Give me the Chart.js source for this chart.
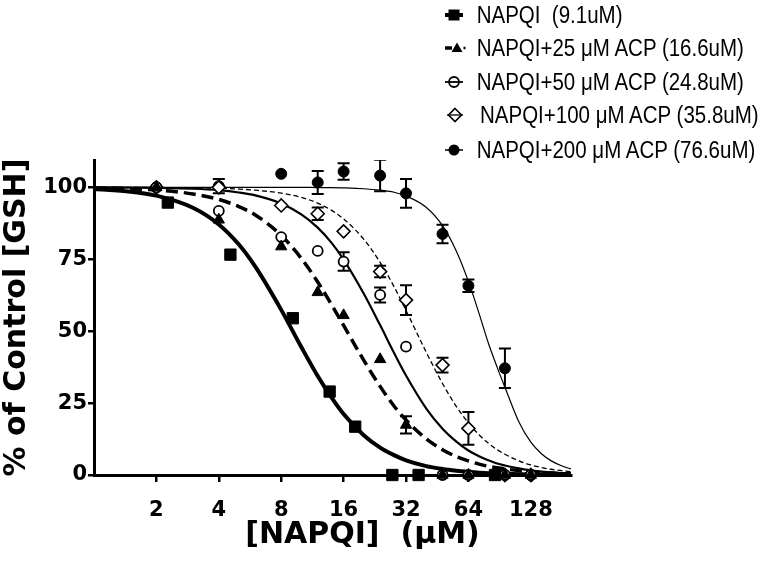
<!DOCTYPE html>
<html><head><meta charset="utf-8">
<script src="https://cdn.jsdelivr.net/npm/chart.js@4.4.1/dist/chart.umd.min.js"></script>
<style>
html,body{margin:0;padding:0;background:#fff;}
#wrap{position:relative;width:768px;height:564px;overflow:hidden;}
#legend{position:absolute;left:0;top:0;width:768px;height:170px;pointer-events:none;}
.item{position:absolute;left:440px;width:328px;height:30px;}
.item svg{position:absolute;left:0;top:0;}
.item span{position:absolute;top:0;white-space:pre;font-family:"Liberation Sans",Arial,sans-serif;font-size:20.5px;line-height:30px;color:#000;transform:scaleY(1.14);transform-origin:left center;}
</style></head>
<body>
<div id="wrap"><canvas id="c" width="768" height="564"></canvas><div id="legend"></div></div>
<script>
// ---- tick labels / titles ----
const xTicks = [2, 4, 8, 16, 32, 64, 128];
const yTicks = [0, 25, 50, 75, 100];
const xTitleText = '[NAPQI]  (μM)';
const yTitleText = '% of Control [GSH]';
const seriesNames = [
  'NAPQI  (9.1uM)',
  'NAPQI+25 μM ACP (16.6uM)',
  'NAPQI+50 μM ACP (24.8uM)',
  'NAPQI+100 μM ACP (35.8uM)',
  'NAPQI+200 μM ACP (76.6uM)'
];

// ---- measured points ----
const napqiX = [2.27, 4.55, 9.1, 13.7, 18.2, 27.5, 36.8, 86];
const napqiY = [94.7, 76.6, 54.5, 29.0, 16.8, 0, 0, 0];

const acpX = [2, 4, 8, 12, 16, 24, 32, 48, 64, 96, 128];
const acp25Y   = [100, 88.7, 79.4, 63.5, 55.5, 40.2, 17.4, 0, 0, 0, 0];
const acp25Err = [0, 0, 0, 0, 0, 0, 3.0, 0, 0, 0, 0];
const acp50Y   = [100, 91.8, 82.7, 77.9, 74.2, 62.6, 44.6, 0, 0, 0, 0];
const acp50Err = [0, 0, 0, 0, 3.2, 2.6, 0, 0, 0, 0, 0];
const acp100Y   = [100, 100, 93.7, 90.8, 84.7, 70.7, 60.8, 38.2, 16.2, 0, 0];
const acp100Err = [0, 0, 0, 2.2, 0, 2.0, 5.2, 2.6, 5.7, 0, 0];
const acp200Y   = [100, 100.4, 104.7, 101.7, 105.5, 104.1, 97.9, 83.8, 65.8, 37.1, 0];
const acp200Err = [0, 2.5, 0, 4.0, 2.9, 5.5, 5.0, 3.2, 2.2, 6.9, 0];

// ---- fitted curves ----
const fitX = [1, 1.5, 2, 3, 4, 5, 6, 8, 10, 12, 14, 16, 20, 24, 28, 32, 40, 48, 56, 64, 72, 80, 88, 96, 112, 128, 144, 160, 180, 200];
const fitNapqi = [99.4, 98.5, 97.1, 92.9, 87.1, 80.1, 72.4, 57.4, 44.5, 34.4, 26.9, 21.2, 13.8, 9.5, 6.9, 5.1, 3.1, 2.1, 1.5, 1.1, 0.8, 0.6, 0.5, 0.4, 0.3, 0.2, 0.2, 0.1, 0.1, 0.1];
const fit25 = [99.8, 99.5, 99.1, 97.7, 95.8, 93.3, 90.4, 83.3, 75.3, 67.1, 59.2, 52.0, 39.9, 30.8, 24.0, 19.1, 12.6, 8.8, 6.4, 4.9, 3.8, 3.0, 2.5, 2.1, 1.5, 1.1, 0.9, 0.7, 0.5, 0.4];
const fit50 = [100, 99.9, 99.8, 99.5, 99.0, 98.2, 97.2, 94.4, 90.6, 86.0, 80.7, 74.9, 63.1, 52.1, 42.5, 34.6, 23.2, 16.1, 11.6, 8.5, 6.5, 5.1, 4.0, 3.3, 2.3, 1.6, 1.2, 0.9, 0.7, 0.5];
const fit100 = [100, 100, 99.9, 99.8, 99.7, 99.4, 99.0, 98.0, 96.5, 94.5, 92.0, 89.0, 82.0, 73.9, 65.5, 57.2, 42.8, 31.8, 23.8, 18.1, 14.0, 11.0, 8.8, 7.2, 4.9, 3.5, 2.6, 2.0, 1.5, 1.1];
const fit200 = [100, 100, 100, 100, 100, 100, 100, 100, 100, 99.9, 99.9, 99.8, 99.5, 99.0, 98.3, 97.0, 93.1, 86.7, 77.8, 67.3, 56.2, 45.7, 37.5, 30.5, 18.5, 11.4, 7.4, 5.0, 3.2, 2.1];

const pts = (xs, ys) => xs.map((x, i) => ({x: x, y: ys[i]}));

function curve(ys, width, dash) {
  return {data: pts(fitX, ys), showLine: true, borderColor: '#000', borderWidth: width,
    borderDash: dash, pointRadius: 0, cubicInterpolationMode: 'monotone', order: 2, fill: false};
}
function marks(xs, ys, errs, style, radius, filled, bw) {
  return {data: pts(xs, ys), errors: errs, showLine: false, pointStyle: style, pointRadius: radius,
    pointBackgroundColor: filled ? '#000' : '#fff', pointBorderColor: '#000', pointBorderWidth: bw,
    order: 1, clip: false};
}

const errorBars = {
  id: 'errorBars',
  beforeDatasetsDraw(chart) {
    const {ctx, chartArea} = chart;
    const xs = chart.scales.x, ys = chart.scales.y;
    ctx.save();
    ctx.beginPath();
    ctx.rect(chartArea.left, chartArea.top, chartArea.right - chartArea.left, chartArea.bottom - chartArea.top + 20);
    ctx.clip();
    ctx.strokeStyle = '#000';
    ctx.lineWidth = 2;
    chart.data.datasets.forEach(ds => {
      if (!ds.errors) return;
      ds.data.forEach((p, i) => {
        const e = ds.errors[i];
        if (!e) return;
        const px = xs.getPixelForValue(p.x);
        const t = ys.getPixelForValue(p.y + e), b = ys.getPixelForValue(p.y - e);
        ctx.beginPath();
        ctx.moveTo(px, t); ctx.lineTo(px, b);
        ctx.moveTo(px - 6, t); ctx.lineTo(px + 6, t);
        ctx.moveTo(px - 6, b); ctx.lineTo(px + 6, b);
        ctx.stroke();
      });
    });
    ctx.restore();
  }
};

const xTitle = {
  id: 'xTitle',
  afterDraw(chart) {
    const {ctx, chartArea} = chart;
    ctx.save();
    ctx.font = 'bold 30px "DejaVu Sans"';
    ctx.fillStyle = '#000';
    ctx.textAlign = 'center';
    ctx.textBaseline = 'middle';
    ctx.fillText(xTitleText, (chartArea.left + chartArea.right) / 2 + 30, chartArea.bottom + 60);
    ctx.restore();
  }
};

const tickFont = {family: 'DejaVu Sans', weight: 'bold', size: 21};

new Chart(document.getElementById('c'), {
  type: 'scatter',
  data: {datasets: [
    curve(fitNapqi, 4, []),
    curve(fit25, 3.5, [12, 6]),
    curve(fit50, 2.2, []),
    curve(fit100, 1.3, [5, 3]),
    curve(fit200, 1.2, []),
    marks(napqiX, napqiY, null, 'rect', 8, true, 1),
    marks(acpX, acp25Y, acp25Err, 'triangle', 6.5, true, 1),
    marks(acpX, acp50Y, acp50Err, 'circle', 5, false, 1.8),
    marks(acpX, acp100Y, acp100Err, 'rectRot', 6.5, false, 1.6),
    marks(acpX, acp200Y, acp200Err, 'circle', 5.5, true, 1)
  ]},
  options: {
    responsive: false, animation: false, devicePixelRatio: 1,
    layout: {padding: {left: 0, top: 160, right: 197, bottom: 0}},
    plugins: {legend: {display: false}, tooltip: {enabled: false}},
    scales: {
      x: {
        type: 'logarithmic', min: 1, max: 200,
        afterBuildTicks: (s) => { s.ticks = xTicks.map(v => ({value: v})); },
        afterFit: (s) => { s.height = 89; },
        ticks: {callback: (v) => String(v), font: tickFont, color: '#000', padding: 16, maxRotation: 0, autoSkip: false},
        grid: {drawOnChartArea: false, drawTicks: true, tickLength: 7, color: '#000', lineWidth: 2.5},
        border: {display: true, color: '#000', width: 3}
      },
      y: {
        type: 'linear', min: 0, max: 109.5,
        afterBuildTicks: (s) => { s.ticks = yTicks.map(v => ({value: v})); },
        afterFit: (s) => { s.width = 94; },
        ticks: {callback: (v) => String(v), font: tickFont, color: '#000', padding: 1},
        grid: {drawOnChartArea: false, drawTicks: true, tickLength: 6, color: '#000', lineWidth: 2.5},
        border: {display: true, color: '#000', width: 3},
        title: {display: true, text: yTitleText, color: '#000',
          font: {family: 'DejaVu Sans', weight: 'bold', size: 30, lineHeight: 1}, padding: {top: 2, bottom: 0}}
      }
    }
  },
  plugins: [errorBars, xTitle]
});

// ---- legend (HTML text) ----
const legendY = [15, 48.3, 81.7, 115, 150];
const legendTextX = [36.7, 36.7, 36.7, 40, 36.7];
const icons = [
  '<line x1="5" y1="15" x2="23" y2="15" stroke="#000" stroke-width="4"/><rect x="8.5" y="9.5" width="11" height="11" fill="#000"/>',
  '<line x1="5" y1="15" x2="12" y2="15" stroke="#000" stroke-width="3.5"/><polygon points="17,9.5 22.5,19 11.5,19" fill="#000"/><line x1="23.5" y1="15" x2="25.5" y2="15" stroke="#000" stroke-width="2.5"/>',
  '<circle cx="14" cy="15" r="5" fill="#fff" stroke="#000" stroke-width="1.8"/><line x1="5" y1="15" x2="23" y2="15" stroke="#000" stroke-width="1.8"/>',
  '<polygon points="15,8.5 21.5,15 15,21.5 8.5,15" fill="#fff" stroke="#000" stroke-width="1.6"/><line x1="7" y1="15" x2="23" y2="15" stroke="#000" stroke-width="1.3"/>',
  '<line x1="5" y1="15" x2="23" y2="15" stroke="#000" stroke-width="1.5"/><circle cx="14" cy="15" r="5.5" fill="#000"/>'
];
const leg = document.getElementById('legend');
seriesNames.forEach((name, i) => {
  const d = document.createElement('div');
  d.className = 'item';
  d.style.top = (legendY[i] - 15) + 'px';
  d.innerHTML = '<svg width="30" height="30" viewBox="0 0 30 30">' + icons[i] + '</svg>';
  const s = document.createElement('span');
  s.textContent = name;
  s.style.left = legendTextX[i] + 'px';
  d.appendChild(s);
  leg.appendChild(d);
});
</script>
</body></html>
